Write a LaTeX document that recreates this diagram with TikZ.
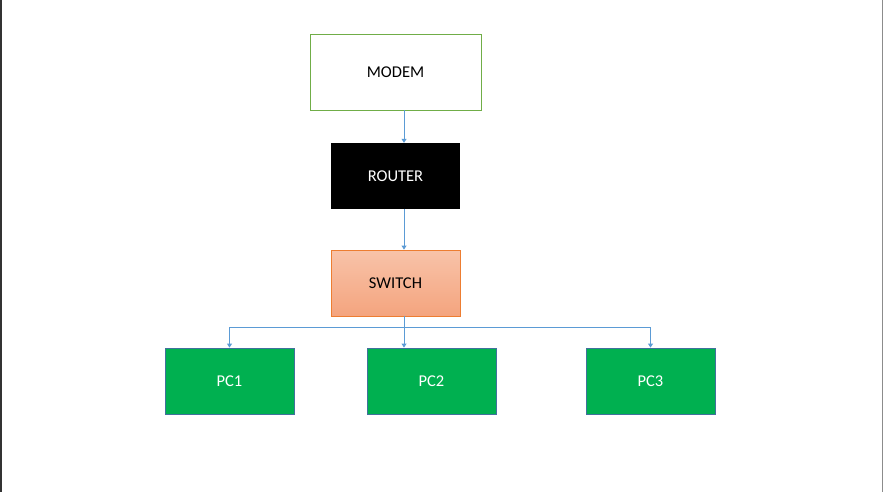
\documentclass[tikz,border=0pt]{standalone}
\usepackage{fontspec}
\setmainfont{Carlito}
\usetikzlibrary{arrows.meta}
\definecolor{modemgreen}{HTML}{70AD47}
\definecolor{swborder}{HTML}{ED7D31}
\definecolor{swtop}{HTML}{F8C3A9}
\definecolor{swbot}{HTML}{F4A47E}
\definecolor{pcgreen}{HTML}{00B050}
\definecolor{pcborder}{HTML}{41719C}
\definecolor{link}{HTML}{5B9BD5}
\begin{document}
\begin{tikzpicture}[x=1pt,y=-1pt,
  box/.style={minimum width=129pt,minimum height=66pt,inner sep=0pt,font=\fontsize{16.5}{19}\selectfont},
  pcbox/.style={box,fill=pcgreen,draw=pcborder,line width=0.9pt,text=white},
  link/.style={draw=link,line width=0.9pt,-{Triangle[width=5pt,length=4pt]}}]
\useasboundingbox (0,0) rectangle (883,492);
\fill[white] (0,0) rectangle (883,492);
\draw[line width=1.5pt,black!80] (0.75,0) -- (0.75,492);
\draw[line width=1.2pt,black!45] (882.2,0) -- (882.2,492);
\node[box,draw=modemgreen,line width=0.9pt,minimum width=171pt,minimum height=76pt] (modem) at (395.5,72) {MODEM};
\node[box,fill=black,text=white] (router) at (395.5,176) {ROUTER};
\node[box,draw=swborder,line width=0.9pt,top color=swtop,bottom color=swbot] (switch) at (395.5,283) {SWITCH};
\node[pcbox] (pc1) at (229.5,381) {PC1};
\node[pcbox] (pc2) at (431.5,381) {PC2};
\node[pcbox] (pc3) at (650.5,381) {PC3};
\coordinate (j) at (404,327);
\draw[link] (modem.south -| j) -- (router.north -| j);
\draw[link] (router.south -| j) -- (switch.north -| j);
\draw[link] (switch.south -| j) -- (pc2.north -| j);
\draw[link] (j -| pc1.north) -- (pc1.north);
\draw[link] (j -| pc3.north) -- (pc3.north);
\draw[draw=link,line width=0.9pt] (j -| pc1.north) -- (j -| pc3.north);
\end{tikzpicture}
\end{document}
